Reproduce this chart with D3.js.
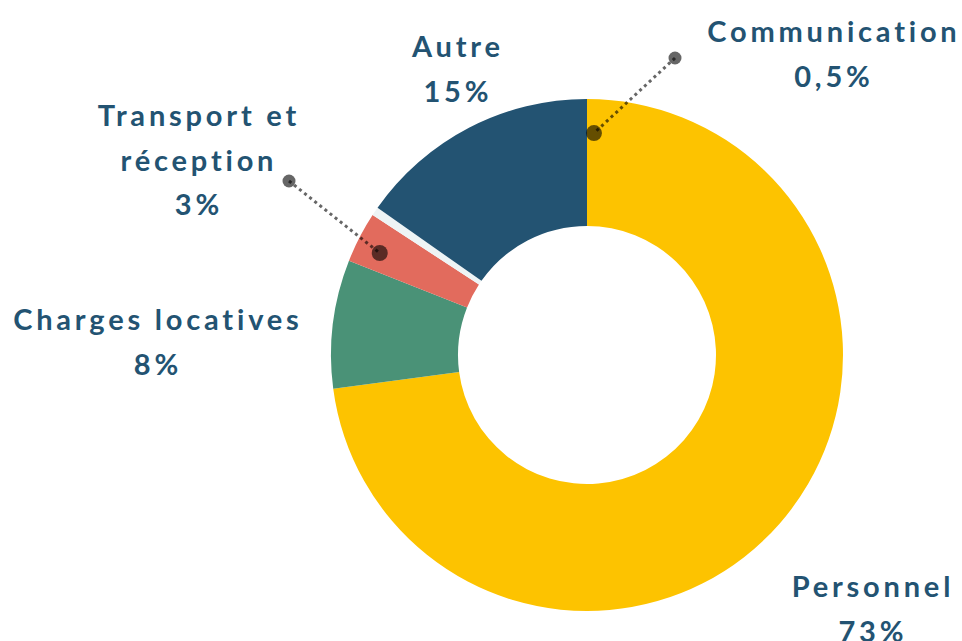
<!DOCTYPE html>
<html>
<head>
<meta charset="utf-8">
<script src="https://cdn.jsdelivr.net/npm/d3@7"></script>
<style>
  html, body { margin: 0; padding: 0; background: #fff; }
  svg { display: block; }
</style>
</head>
<body>
<div id="chart"></div>
<script>
// data
var categories = ["Personnel", "Charges locatives", "Transport et réception", "Communication", "Autre"];
var shares = [72.9, 8.1, 3.2, 0.55, 15.25];
var shareLabels = ["73%", "8%", "3%", "0,5%", "15%"];
var colors = ["#fdc300", "#4a9277", "#e26b5d", "#eef4f5", "#235372"];

var width = 962, height = 641;
var cx = 587, cy = 355;
var outerR = 256, innerR = 129;
var spacing = 3.8;

var svg = d3.select("#chart").append("svg")
  .attr("width", width)
  .attr("height", height)
  .attr("font-family", "Lato, 'Open Sans', sans-serif")
  .attr("font-weight", 700)
  .attr("font-size", 29)
  .attr("text-anchor", "middle");

var pie = d3.pie().sort(null).value(function(d) { return d; });
var arc = d3.arc().innerRadius(innerR).outerRadius(outerR);

var g = svg.append("g").attr("transform", "translate(" + cx + "," + cy + ")");

var arcs = pie(shares);

g.selectAll("path")
  .data(arcs)
  .enter().append("path")
  .attr("d", arc)
  .attr("fill", function(d, i) { return colors[i]; });

// label layout: text lines position + optional leader (angle in deg from top, radius)
var labelLayout = [
  { x: 871, y: 597, lines: ["Personnel"] },
  { x: 156, y: 330, lines: ["Charges locatives"] },
  { x: 197, y: 126, lines: ["Transport et", "réception"], leader: { from: [289, 181], angle: 296.2, r: 231 } },
  { x: 832, y: 42, lines: ["Communication"], leader: { from: [675, 58], angle: 1.8, r: 222 } },
  { x: 456, y: 57, lines: ["Autre"] }
];

function polar(angleDeg, r) {
  var a = angleDeg * Math.PI / 180;
  return [cx + r * Math.sin(a), cy - r * Math.cos(a)];
}

var lineH = 44.5;

labelLayout.forEach(function(l, i) {
  var tx = l.x + spacing / 2;
  var t = svg.append("text")
    .attr("fill", "#235372")
    .attr("letter-spacing", spacing)
    .attr("x", tx)
    .attr("y", l.y);
  var all = l.lines.concat([shareLabels[i]]);
  all.forEach(function(s, j) {
    t.append("tspan")
      .attr("x", tx)
      .attr("y", l.y + j * lineH)
      .text(s);
  });

  if (l.leader) {
    var p0 = l.leader.from;
    var p1 = polar(l.leader.angle, l.leader.r);
    svg.append("line")
      .attr("x1", p0[0]).attr("y1", p0[1])
      .attr("x2", p1[0]).attr("y2", p1[1])
      .attr("stroke", "#000")
      .attr("stroke-opacity", 0.6)
      .attr("stroke-width", 3)
      .attr("stroke-dasharray", "3,3.5");
    svg.append("circle")
      .attr("cx", p0[0]).attr("cy", p0[1])
      .attr("r", 6.5)
      .attr("fill", "#000")
      .attr("fill-opacity", 0.6);
    svg.append("circle")
      .attr("cx", p1[0]).attr("cy", p1[1])
      .attr("r", 8)
      .attr("fill", "#000")
      .attr("fill-opacity", 0.6);
  }
});
</script>
</body>
</html>
